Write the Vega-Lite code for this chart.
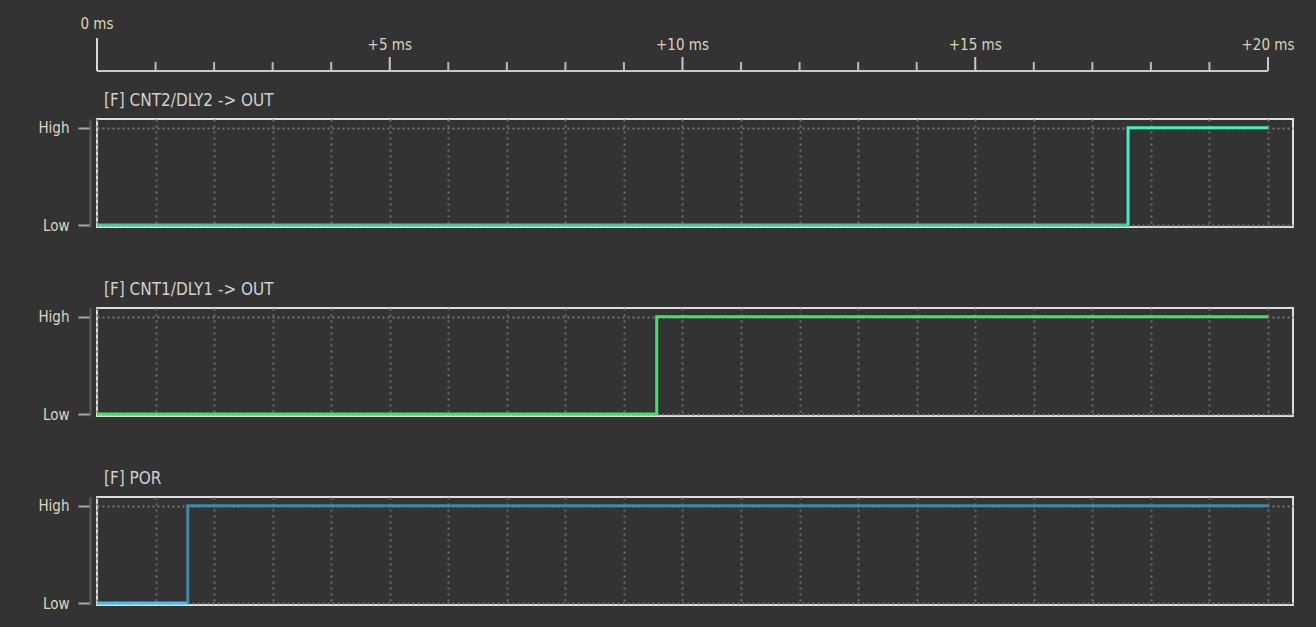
{
  "$schema": "https://vega.github.io/schema/vega-lite/v6.json",
  "background": "#333333",
  "autosize": {"type": "pad"},
  "padding": {"left": 36, "top": 17, "right": 24, "bottom": 23},
  "config": {
    "view": {"stroke": null},
    "font": "DejaVu Sans Condensed, Liberation Sans Narrow, DejaVu Sans",
    "title": {"font": "DejaVu Sans Condensed, Liberation Sans Narrow, DejaVu Sans", "fontSize": 17, "fontWeight": "normal", "color": "#cfcfcf", "anchor": "start", "frame": "group", "dx": 7, "offset": 9}
  },
  "datasets": {
    "ticks": [
      {"t": 0, "kind": "zero"}, {"t": 1, "kind": "minor"}, {"t": 2, "kind": "minor"}, {"t": 3, "kind": "minor"}, {"t": 4, "kind": "minor"},
      {"t": 5, "kind": "major"}, {"t": 6, "kind": "minor"}, {"t": 7, "kind": "minor"}, {"t": 8, "kind": "minor"}, {"t": 9, "kind": "minor"},
      {"t": 10, "kind": "major"}, {"t": 11, "kind": "minor"}, {"t": 12, "kind": "minor"}, {"t": 13, "kind": "minor"}, {"t": 14, "kind": "minor"},
      {"t": 15, "kind": "major"}, {"t": 16, "kind": "minor"}, {"t": 17, "kind": "minor"}, {"t": 18, "kind": "minor"}, {"t": 19, "kind": "minor"},
      {"t": 20, "kind": "major"}
    ],
    "labels": [
      {"t": 0, "lab": "0 ms"}, {"t": 5, "lab": "+5 ms"}, {"t": 10, "lab": "+10 ms"}, {"t": 15, "lab": "+15 ms"}, {"t": 20, "lab": "+20 ms"}
    ],
    "signals": [
      {"sig": "CNT2", "seg": "CNT2 low", "n": 1, "t": 0, "v": 0},
      {"sig": "CNT2", "seg": "CNT2 low", "n": 2, "t": 17.61, "v": 0},
      {"sig": "CNT2", "seg": "CNT2 high", "n": 3, "t": 17.61, "v": 0},
      {"sig": "CNT2", "seg": "CNT2 high", "n": 4, "t": 17.61, "v": 1},
      {"sig": "CNT2", "seg": "CNT2 high", "n": 5, "t": 20, "v": 1},
      {"sig": "CNT1", "seg": "CNT1", "n": 1, "t": 0, "v": 0},
      {"sig": "CNT1", "seg": "CNT1", "n": 2, "t": 9.56, "v": 0},
      {"sig": "CNT1", "seg": "CNT1", "n": 3, "t": 9.56, "v": 1},
      {"sig": "CNT1", "seg": "CNT1", "n": 4, "t": 20, "v": 1},
      {"sig": "POR", "seg": "POR low", "n": 1, "t": 0, "v": 0},
      {"sig": "POR", "seg": "POR low", "n": 2, "t": 1.55, "v": 0},
      {"sig": "POR", "seg": "POR high", "n": 3, "t": 1.55, "v": 0},
      {"sig": "POR", "seg": "POR high", "n": 4, "t": 1.55, "v": 1},
      {"sig": "POR", "seg": "POR high", "n": 5, "t": 20, "v": 1}
    ]
  },
  "resolve": {"scale": {"color": "shared"}},
  "spacing": 19,
  "vconcat": [
    {
      "width": 1171,
      "height": 50,
      "data": {"name": "ticks"},
      "layer": [
        {
          "transform": [{"filter": "datum.kind == 'minor'"}],
          "mark": {"type": "rule", "color": "#b8b8b8", "strokeWidth": 2},
          "encoding": {
            "x": {"field": "t", "type": "quantitative", "scale": {"domain": [0, 20], "nice": false}, "axis": null},
            "y": {"datum": 0, "type": "quantitative", "scale": {"domain": [0, 50], "nice": false}, "axis": null},
            "y2": {"datum": 9}
          }
        },
        {
          "transform": [{"filter": "datum.kind == 'major'"}],
          "mark": {"type": "rule", "color": "#c8c8c8", "strokeWidth": 2},
          "encoding": {
            "x": {"field": "t", "type": "quantitative"},
            "y": {"datum": 0, "type": "quantitative"},
            "y2": {"datum": 14}
          }
        },
        {
          "transform": [{"filter": "datum.kind == 'zero'"}],
          "mark": {"type": "rule", "color": "#d8d8d8", "strokeWidth": 2},
          "encoding": {
            "x": {"field": "t", "type": "quantitative"},
            "y": {"datum": 0, "type": "quantitative"},
            "y2": {"datum": 33}
          }
        },
        {
          "transform": [{"filter": "datum.t == 0"}],
          "mark": {"type": "rule", "color": "#c8c8c8", "strokeWidth": 2},
          "encoding": {
            "x": {"datum": 0, "type": "quantitative"},
            "x2": {"datum": 20},
            "y": {"datum": 0, "type": "quantitative"}
          }
        },
        {
          "data": {"name": "labels"},
          "transform": [{"filter": "datum.t > 0"}],
          "mark": {"type": "text", "color": "#d8d4bc", "fontSize": 15, "baseline": "middle", "align": "center"},
          "encoding": {
            "x": {"field": "t", "type": "quantitative"},
            "y": {"datum": 26, "type": "quantitative"},
            "text": {"field": "lab"}
          }
        },
        {
          "data": {"name": "labels"},
          "transform": [{"filter": "datum.t == 0"}],
          "mark": {"type": "text", "color": "#d8d4bc", "fontSize": 15, "baseline": "middle", "align": "center"},
          "encoding": {
            "x": {"field": "t", "type": "quantitative"},
            "y": {"datum": 47, "type": "quantitative"},
            "text": {"field": "lab"}
          }
        }
      ]
    },
    {
      "spacing": 45,
      "resolve": {"scale": {"color": "shared"}},
      "vconcat": [
        {
          "title": {"text": "[F] CNT2/DLY2 -> OUT"},
          "width": 1196,
          "height": 108,
          "view": {"stroke": "#dedede", "strokeWidth": 2},
          "data": {"name": "signals"},
          "transform": [{"filter": "datum.sig == 'CNT2'"}],
          "mark": {"type": "line", "strokeWidth": 3},
          "encoding": {
            "x": {"field": "t", "type": "quantitative", "scale": {"domain": [0, 20.427], "nice": false},
                  "axis": {"values": [0,1,2,3,4,5,6,7,8,9,10,11,12,13,14,15,16,17,18,19,20], "labels": false, "ticks": false, "domain": false, "grid": true, "gridColor": "#6c6c6c", "gridDash": [2, 4], "gridWidth": 2, "title": null}},
            "y": {"field": "v", "type": "quantitative", "scale": {"domain": [-0.02, 1.09], "nice": false, "zero": false},
                  "axis": {"values": [0, 1], "labelExpr": "datum.value == 1 ? 'High' : 'Low'", "offset": 7, "tickSize": 12, "tickWidth": 2, "tickColor": "#a8a8a8", "domainColor": "#5c5c5c", "domainWidth": 2, "labelColor": "#dcd8c0", "labelFontSize": 15, "labelPadding": 9, "grid": true, "gridColor": "#777777", "gridDash": [2, 3], "gridWidth": 2, "title": null}},
            "color": {"field": "seg", "type": "nominal", "scale": {"domain": ["CNT2 low", "CNT2 high", "CNT1", "POR low", "POR high"], "range": ["#44c8a4", "#40f0c0", "#40e462", "#44c0ee", "#3a8aa8"]}, "legend": null},
            "order": {"field": "n"}
          }
        },
        {
          "title": {"text": "[F] CNT1/DLY1 -> OUT"},
          "width": 1196,
          "height": 108,
          "view": {"stroke": "#dedede", "strokeWidth": 2},
          "data": {"name": "signals"},
          "transform": [{"filter": "datum.sig == 'CNT1'"}],
          "mark": {"type": "line", "strokeWidth": 3},
          "encoding": {
            "x": {"field": "t", "type": "quantitative", "scale": {"domain": [0, 20.427], "nice": false},
                  "axis": {"values": [0,1,2,3,4,5,6,7,8,9,10,11,12,13,14,15,16,17,18,19,20], "labels": false, "ticks": false, "domain": false, "grid": true, "gridColor": "#6c6c6c", "gridDash": [2, 4], "gridWidth": 2, "title": null}},
            "y": {"field": "v", "type": "quantitative", "scale": {"domain": [-0.02, 1.09], "nice": false, "zero": false},
                  "axis": {"values": [0, 1], "labelExpr": "datum.value == 1 ? 'High' : 'Low'", "offset": 7, "tickSize": 12, "tickWidth": 2, "tickColor": "#a8a8a8", "domainColor": "#5c5c5c", "domainWidth": 2, "labelColor": "#dcd8c0", "labelFontSize": 15, "labelPadding": 9, "grid": true, "gridColor": "#777777", "gridDash": [2, 3], "gridWidth": 2, "title": null}},
            "color": {"field": "seg", "type": "nominal", "legend": null},
            "order": {"field": "n"}
          }
        },
        {
          "title": {"text": "[F] POR"},
          "width": 1196,
          "height": 108,
          "view": {"stroke": "#dedede", "strokeWidth": 2},
          "data": {"name": "signals"},
          "transform": [{"filter": "datum.sig == 'POR'"}],
          "mark": {"type": "line", "strokeWidth": 3},
          "encoding": {
            "x": {"field": "t", "type": "quantitative", "scale": {"domain": [0, 20.427], "nice": false},
                  "axis": {"values": [0,1,2,3,4,5,6,7,8,9,10,11,12,13,14,15,16,17,18,19,20], "labels": false, "ticks": false, "domain": false, "grid": true, "gridColor": "#6c6c6c", "gridDash": [2, 4], "gridWidth": 2, "title": null}},
            "y": {"field": "v", "type": "quantitative", "scale": {"domain": [-0.02, 1.09], "nice": false, "zero": false},
                  "axis": {"values": [0, 1], "labelExpr": "datum.value == 1 ? 'High' : 'Low'", "offset": 7, "tickSize": 12, "tickWidth": 2, "tickColor": "#a8a8a8", "domainColor": "#5c5c5c", "domainWidth": 2, "labelColor": "#dcd8c0", "labelFontSize": 15, "labelPadding": 9, "grid": true, "gridColor": "#777777", "gridDash": [2, 3], "gridWidth": 2, "title": null}},
            "color": {"field": "seg", "type": "nominal", "legend": null},
            "order": {"field": "n"}
          }
        }
      ]
    }
  ]
}
